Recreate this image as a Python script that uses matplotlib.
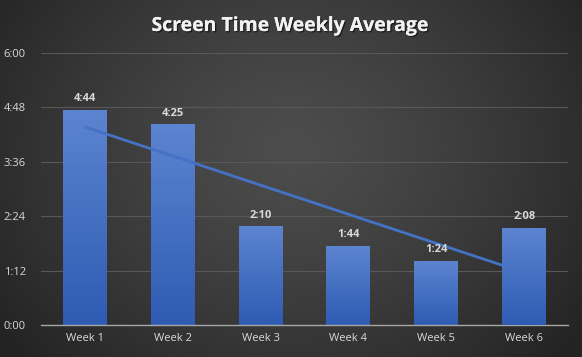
import numpy as np
import matplotlib
matplotlib.use("Agg")
import matplotlib.pyplot as plt
from matplotlib.colors import LinearSegmentedColormap
import matplotlib.patheffects as pe

weeks = ["Week 1", "Week 2", "Week 3", "Week 4", "Week 5", "Week 6"]
minutes = [284, 265, 130, 104, 84, 128]  # 4:44, 4:25, 2:10, 1:44, 1:24, 2:08
y_ticks = [0, 72, 144, 216, 288, 360]
title = "Screen Time Weekly Average"

def fmt(m):
    return f"{int(m)//60}:{int(m)%60:02d}"

plt.rcParams['font.family'] = ['Open Sans', 'DejaVu Sans']

fig = plt.figure(figsize=(5.82, 3.57), dpi=100)

# radial gradient background
bg = fig.add_axes([0, 0, 1, 1], zorder=-10)
W, H = 582, 357
yy, xx = np.mgrid[0:H, 0:W]
cx, cy = W * 0.5, H * 0.42
r = np.sqrt(((xx - cx) / (W * 0.62)) ** 2 + ((yy - cy) / (H * 0.85)) ** 2)
r = np.clip(r, 0, 1)
val = 0.30 - 0.16 * r ** 1.3
img = np.dstack([val, val, val])
bg.imshow(img, extent=[0, 1, 0, 1], aspect='auto', origin='upper')
bg.axis('off')

ax = fig.add_axes([41 / W, 1 - 325 / H, (568 - 41) / W, (325 - 53) / H])
ax.set_facecolor('none')
x = np.arange(len(weeks))

cmap = LinearSegmentedColormap.from_list("b", ["#2e5cb3", "#5c84d0"])
grad = np.linspace(0, 1, 256).reshape(-1, 1)
bars = ax.bar(x, minutes, width=0.5, color='none', edgecolor='none', zorder=2)
for i, b in enumerate(bars):
    z = 4 if i == len(bars) - 1 else 2
    bx, by = b.get_x(), b.get_y()
    bw, bh = b.get_width(), b.get_height()
    ax.imshow(grad, cmap=cmap, extent=[bx, bx + bw, by, by + bh],
              origin='lower', aspect='auto', zorder=z)
    ax.text(x[i], minutes[i] + 8, fmt(minutes[i]), ha='center', va='bottom',
            color='#d9d9d9', fontsize=8, fontweight='bold', zorder=5)
ax.set_xlim(-0.5, len(weeks) - 0.5)
ax.set_ylim(0, 360)

# linear trendline
coef = np.polyfit(x, minutes, 1)
tx = np.array([x[0], x[-1]])
ax.plot(tx, np.polyval(coef, tx), color='#4472c4', lw=2, zorder=3,
        solid_capstyle='butt')

ax.set_yticks(y_ticks)
ax.set_yticklabels([fmt(t) for t in y_ticks])
ax.set_xticks(x)
ax.set_xticklabels(weeks)
ax.tick_params(axis='both', length=0, colors='#d9d9d9', labelsize=8)
ax.tick_params(axis='y', pad=11)
ax.tick_params(axis='x', pad=6)
ax.grid(axis='y', color='#585858', lw=0.8, zorder=0)
ax.set_axisbelow(True)
for s in ['top', 'right', 'left']:
    ax.spines[s].set_visible(False)
ax.spines['bottom'].set_color('#a6a6a6')
ax.spines['bottom'].set_linewidth(1)

fig.text(0.5, 1 - 26 / H, title, ha='center', va='center', color='#f2f2f2',
         fontsize=14, fontweight='bold',
         path_effects=[pe.withSimplePatchShadow(offset=(1, -1), shadow_rgbFace='black', alpha=0.5),
                       pe.Normal()])

fig.savefig("out.png", dpi=100)
